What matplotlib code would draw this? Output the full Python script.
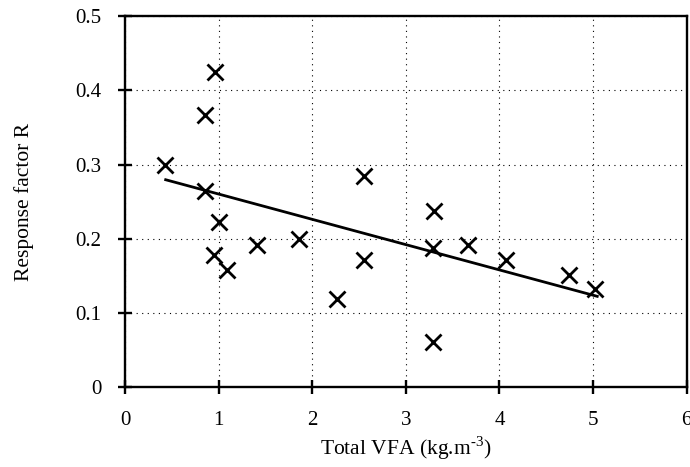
"""Response factor R versus total VFA, scatter with linear trend."""
import numpy as np
import matplotlib
matplotlib.use("Agg")
import matplotlib.pyplot as plt

plt.rcParams["font.family"] = ["Liberation Serif", "DejaVu Serif"]
plt.rcParams["mathtext.fontset"] = "custom"
plt.rcParams["mathtext.rm"] = "Liberation Serif"

vfa = [0.43, 0.96, 0.85, 0.85, 2.55, 1.00, 1.41, 1.86, 0.95, 1.09,
       2.55, 2.26, 3.30, 3.29, 3.66, 4.07, 4.74, 5.02, 3.29]
resp = [0.300, 0.425, 0.367, 0.265, 0.284, 0.223, 0.191, 0.200, 0.178, 0.158,
        0.171, 0.119, 0.237, 0.187, 0.191, 0.172, 0.151, 0.133, 0.061]

# Trend line end points
fit_x = [0.42, 5.06]
fit_y = [0.280, 0.122]

x_ticks = [0, 1, 2, 3, 4, 5, 6]
y_ticks = [0, 0.1, 0.2, 0.3, 0.4, 0.5]
y_tick_labels = ["0", "0.1", "0.2", "0.3", "0.4", "0.5"]

fig = plt.figure(figsize=(6.9, 4.67), dpi=100)
ax = fig.add_axes([0.1812, 0.1707, 0.8138, 0.795])

ax.plot(fit_x, fit_y, color="black", lw=2.0, solid_capstyle="butt")
ax.plot(vfa, resp, ls="none", marker="x", color="black",
        markersize=11, markeredgewidth=2.0)

ax.set_xlim(0, 6)
ax.set_ylim(0, 0.5)
ax.set_xticks(x_ticks)
ax.set_yticks(y_ticks)
ax.set_yticklabels(y_tick_labels)

ax.grid(True, color="black", ls=(0, (1, 4)), lw=0.8)
for s in ax.spines.values():
    s.set_linewidth(1.7)

ax.tick_params(direction="inout", length=10, width=1.7, labelsize=15)
ax.tick_params(axis="x", pad=12)
ax.tick_params(axis="y", pad=12)

ax.set_xlabel("Total VFA (kg.m$^{\\mathregular{\u20103}}$)", fontsize=15.5, labelpad=3)
ax.set_ylabel("Response factor R", fontsize=15.5, labelpad=30)

fig.savefig("out.png", dpi=100)
